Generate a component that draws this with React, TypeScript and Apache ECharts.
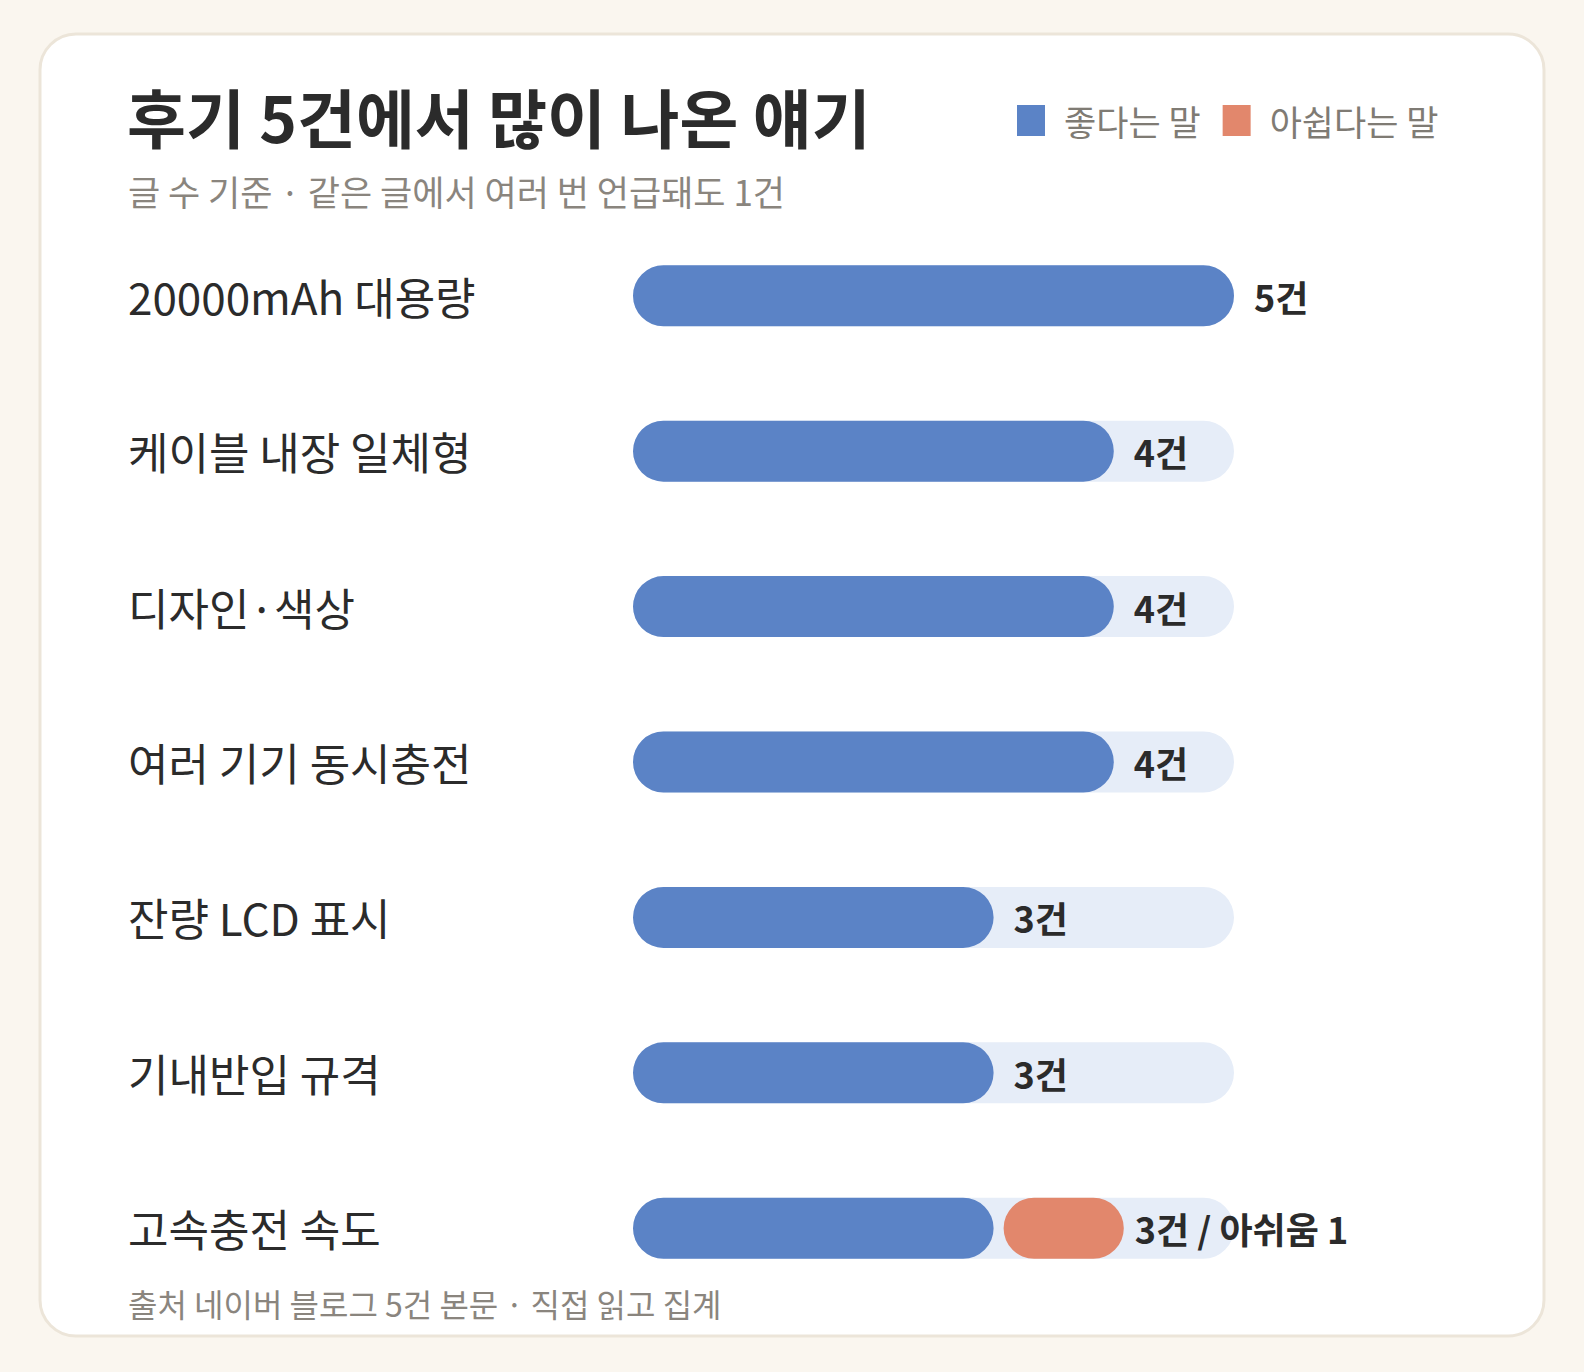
import React, { useEffect, useRef } from "react";
import * as echarts from "echarts";

const categories = [
  "20000mAh 대용량",
  "케이블 내장 일체형",
  "디자인·색상",
  "여러 기기 동시충전",
  "잔량 LCD 표시",
  "기내반입 규격",
  "고속충전 속도",
];
const goodCounts = [5, 4, 4, 4, 3, 3, 3];
const badCounts = [0, 0, 0, 0, 0, 0, 1];
const totalPosts = 5;

const FONT = '"Noto Sans CJK KR", "Noto Sans", sans-serif';
const BLUE = "#5b83c6";
const ORANGE = "#e2876c";
const TRACK = "#e6edf8";
const DARK = "#2b2b2b";
const GRAY = "#8a857e";
const BAR_H = 61;

const App: React.FC = () => {
  const chartRef = useRef<HTMLDivElement>(null);

  useEffect(() => {
    if (!chartRef.current) return;
    const chart = echarts.init(chartRef.current, null, { renderer: "svg" });

    const option = {
      animation: false,
      backgroundColor: "#faf6ef",
      graphic: [
        {
          type: "rect",
          z: 0,
          shape: { x: 40, y: 34, width: 1504, height: 1302, r: 36 },
          style: { fill: "#ffffff", stroke: "#ece5d9", lineWidth: 3 },
        },
        {
          type: "text",
          z: 10,
          x: 127,
          y: 115,
          style: {
            text: "후기 5건에서 많이 나온 얘기",
            fill: DARK,
            fontSize: 64,
            fontWeight: "bold",
            fontFamily: FONT,
            verticalAlign: "middle",
          },
        },
        {
          type: "text",
          z: 10,
          x: 128,
          y: 190,
          style: {
            text: "글 수 기준 · 같은 글에서 여러 번 언급돼도 1건",
            fill: GRAY,
            fontSize: 35,
            fontFamily: FONT,
            verticalAlign: "middle",
          },
        },
        {
          type: "text",
          z: 10,
          x: 128,
          y: 1303,
          style: {
            text: "출처 네이버 블로그 5건 본문 · 직접 읽고 집계",
            fill: GRAY,
            fontSize: 32,
            fontFamily: FONT,
            verticalAlign: "middle",
          },
        },
      ],
      legend: {
        data: ["좋다는 말", "아쉽다는 말"],
        left: 1012,
        top: 98,
        icon: "rect",
        itemWidth: 28,
        itemHeight: 31,
        itemGap: 22,
        itemStyle: { borderWidth: 0 },
        textStyle: {
          fontSize: 35,
          color: "#7f7b74",
          fontFamily: FONT,
          padding: [0, 0, 0, 14],
        },
      },
      grid: { left: 633, right: 350, top: 218, bottom: 66 },
      xAxis: { type: "value", min: 0, max: totalPosts, show: false },
      yAxis: {
        type: "category",
        data: categories,
        inverse: true,
        axisLine: { show: false },
        axisTick: { show: false },
        splitLine: { show: false },
        axisLabel: {
          align: "left",
          margin: 505,
          fontSize: 44,
          color: DARK,
          fontFamily: FONT,
        },
      },
      series: [
        {
          type: "bar",
          silent: true,
          data: categories.map(() => totalPosts),
          barWidth: BAR_H,
          barGap: "-100%",
          itemStyle: { color: TRACK, borderRadius: BAR_H / 2 },
        },
        {
          name: "좋다는 말",
          type: "bar",
          data: goodCounts,
          barWidth: BAR_H,
          barGap: "-100%",
          itemStyle: { color: BLUE, borderRadius: BAR_H / 2 },
          label: {
            show: true,
            position: "right",
            distance: 20,
            formatter: (p: any) =>
              badCounts[p.dataIndex] ? "" : `${p.value}건`,
            fontSize: 36,
            fontWeight: "bold",
            color: DARK,
            fontFamily: FONT,
          },
        },
        {
          name: "아쉽다는 말",
          type: "custom",
          z: 3,
          itemStyle: { color: ORANGE },
          data: categories.map((_, i) => [goodCounts[i], badCounts[i], i]),
          encode: { x: [0, 1], y: 2 },
          renderItem: (_params: any, api: any) => {
            const g = api.value(0) as number;
            const b = api.value(1) as number;
            const i = api.value(2) as number;
            if (!b) return null;
            const start = api.coord([g, i]);
            const end = api.coord([g + b, i]);
            const gap = 10;
            return {
              type: "group",
              children: [
                {
                  type: "rect",
                  shape: {
                    x: start[0] + gap,
                    y: start[1] - BAR_H / 2,
                    width: end[0] - start[0],
                    height: BAR_H,
                    r: BAR_H / 2,
                  },
                  style: { fill: ORANGE },
                },
                {
                  type: "text",
                  style: {
                    text: `${g}건 / 아쉬움 ${b}`,
                    x: end[0] + gap + 11,
                    y: start[1],
                    align: "left",
                    verticalAlign: "middle",
                    fill: DARK,
                    fontSize: 36,
                    fontWeight: "bold",
                    fontFamily: FONT,
                  },
                },
              ],
            };
          },
        },
      ],
    };

    chart.setOption(option as any);

    return () => {
      chart.dispose();
    };
  }, []);

  return (
    <div
      ref={chartRef}
      style={{
        position: "fixed",
        left: 0,
        top: 0,
        width: "1584px",
        height: "1372px",
      }}
    ></div>
  );
};

export default App;
